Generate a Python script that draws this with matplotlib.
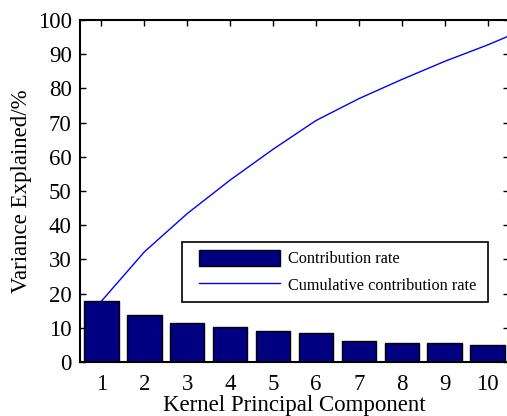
import matplotlib
matplotlib.use("Agg")
import matplotlib.pyplot as plt
from matplotlib.container import BarContainer
from matplotlib.lines import Line2D
from matplotlib.legend_handler import HandlerPatch, HandlerLine2D, update_from_first_child

components = [1, 2, 3, 4, 5, 6, 7, 8, 9, 10]
contribution = [17.8, 13.7, 11.4, 10.2, 9.0, 8.5, 6.1, 5.5, 5.5, 5.0]
cum_x = [1, 2, 3, 4, 5, 6, 7, 8, 9, 10, 11]
cumulative = [17.8, 32.2, 43.4, 53.2, 62.2, 70.6, 77.0, 82.6, 87.9, 92.7, 98.0]
yticks = [0, 10, 20, 30, 40, 50, 60, 70, 80, 90, 100]

plt.rcParams['font.family'] = ['Liberation Serif', 'DejaVu Serif']

fig = plt.figure(figsize=(5.07, 4.16), dpi=100)
ax = fig.add_axes([80/507, 1-362/416, (509-80)/507, (362-20)/416])

bars = ax.bar(components, contribution, width=0.8, color='#000080', edgecolor='black',
              linewidth=1.0, label='Contribution rate', zorder=2)
line, = ax.plot(cum_x, cumulative, color='#0000FF', linewidth=1.0,
                label='Cumulative contribution rate', zorder=3)

ax.set_xlim(0.5, 10.5)
ax.set_ylim(0, 100)
ax.set_xticks(components)
ax.set_yticks(yticks)
ax.tick_params(direction='in', top=True, right=True, length=4, width=1,
               labelsize=16.5)
ax.tick_params(axis='x', pad=9)
ax.tick_params(axis='y', pad=6)
for s in ax.spines.values():
    s.set_linewidth(1.5)

ax.set_xlabel('Kernel Principal Component', fontsize=16.5, labelpad=-0.5)
ax.set_ylabel('Variance Explained/%', fontsize=16.5, labelpad=4)

hmap = {BarContainer: HandlerPatch(xpad=0.5, update_func=update_from_first_child),
        Line2D: HandlerLine2D(xpad=0.5)}
leg = ax.legend([bars, line], ['Contribution rate', 'Cumulative contribution rate'],
                loc='lower left', bbox_to_anchor=(0.2385, 0.176, 0.7115, 0.176),
                mode='expand', fontsize=11.7, fancybox=False, framealpha=1,
                edgecolor='black', handlelength=5.54, handleheight=1.1,
                handletextpad=0.45, borderaxespad=0, borderpad=0.5,
                labelspacing=0.56, handler_map=hmap)
leg.get_frame().set_linewidth(1.2)

fig.savefig('out.png', dpi=100)
